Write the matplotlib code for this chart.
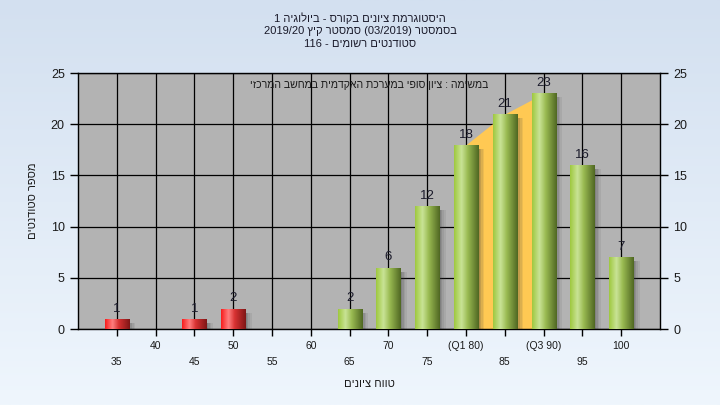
import re
import numpy as np
import matplotlib
matplotlib.use("Agg")
import matplotlib.pyplot as plt
from matplotlib.colors import LinearSegmentedColormap
from matplotlib.patches import Rectangle

plt.rcParams['font.family'] = ['Liberation Sans', 'DejaVu Sans']

# ---------------- data ----------------
grade_labels = ['35', '40', '45', '50', '55', '60', '65', '70', '75',
                '(Q1 80)', '85', '(Q3 90)', '95', '100']
grade_values = [35, 40, 45, 50, 55, 60, 65, 70, 75, 80, 85, 90, 95, 100]
counts = [1, 0, 1, 2, 0, 0, 2, 6, 12, 18, 21, 23, 16, 7]
pass_grade = 55
q1_grade, q3_grade = 80, 90

title_lines = ["היסטוגרמת ציונים בקורס - ביולוגיה 1",
               "בסמסטר (03/2019) סמסטר קיץ 2019/20",
               "סטודנטים רשומים - 116"]
note_text = "במשימה : ציון סופי במערכת האקדמית במחשב המרכזי"
xlabel_text = "טווח ציונים"
ylabel_text = "מספר סטודנטים"
yticks = [0, 5, 10, 15, 20, 25]


def vis(s):
    """simple RTL -> visual order conversion"""
    r = s[::-1]
    r = re.sub(r'[0-9A-Za-z/.]+', lambda m: m.group(0)[::-1], r)
    return r.translate(str.maketrans('()', ')('))


W, H = 720, 405
fig = plt.figure(figsize=(W / 100, H / 100), dpi=100)

# background gradient
bg = fig.add_axes([0, 0, 1, 1], zorder=-10)
bg_cmap = LinearSegmentedColormap.from_list('bg', ['#d3e0f0', '#eff6fd'])
bg.imshow(np.linspace(0, 1, 256).reshape(-1, 1), aspect='auto', cmap=bg_cmap,
          extent=[0, 1, 0, 1], origin='upper')
bg.axis('off')

L, R, T, B = 78, 660, 73, 329
ax = fig.add_axes([L / W, 1 - B / H, (R - L) / W, (B - T) / H])
ax.set_facecolor('#b3b3b3')

x = np.arange(len(counts))
bar_w = 0.62

green_cmap = LinearSegmentedColormap.from_list(
    'g', [(0, '#9ec83e'), (0.3, '#c9e396'), (0.55, '#9abb52'), (1, '#4f6722')])
red_cmap = LinearSegmentedColormap.from_list(
    'r', [(0, '#f81c1c'), (0.3, '#ff7f7f'), (0.55, '#d83232'), (1, '#7e1616')])
grad = np.linspace(0, 1, 128).reshape(1, -1)

# orange inter-quartile area
qmask = [(g >= q1_grade) and (g <= q3_grade) for g in grade_values]
qx = x[qmask]
qy = np.array(counts)[qmask]
ax.fill_between(qx, qy, 0, color='#ffc953', zorder=2, linewidth=0)

bars = ax.bar(x, counts, width=bar_w, color='none', zorder=3)
px = 15 / (R - L)      # data units per pixel (x)
py = 25 / (B - T)      # data units per pixel (y)
for xi, rect, g, c in zip(x, bars.patches, grade_values, counts):
    if c <= 0:
        continue
    x0 = rect.get_x()
    x1 = x0 + rect.get_width()
    # shadow
    for k, a in enumerate([0.42, 0.3, 0.18, 0.09]):
        ax.add_patch(Rectangle((x1 + k * 1.6 * px, 0), 1.6 * px,
                               max(c - 4 * py, 0), color='#3a3a3a',
                               alpha=a, linewidth=0, zorder=2.5))
    cmap = green_cmap if g >= pass_grade else red_cmap
    im = ax.imshow(grad, extent=[x0, x1, 0, c], aspect='auto', cmap=cmap,
                   zorder=3, interpolation='bilinear')
    im.set_clip_path(rect)
    ax.text(xi, c + 0.4, str(c), ha='center', va='bottom', fontsize=9.5,
            color='#1c1c2c', zorder=5)

ax.set_xlim(-1, len(counts))
ax.set_ylim(0, 25)
ax.set_yticks(yticks)
ax.set_xticks(x)
ax.set_xticklabels(grade_labels, fontsize=7.5, color='#1a1a1a')
for i, t in enumerate(ax.xaxis.get_major_ticks()):
    t.set_pad(3.5 if i % 2 == 1 else 15)
ax.tick_params(axis='x', length=5, width=1, color='black')
ax.tick_params(axis='y', left=True, right=True, labelleft=True,
               labelright=True, length=6, width=1, labelsize=9,
               labelcolor='#1a1a1a')
ax.grid(True, color='black', linewidth=0.9)
ax.set_axisbelow(True)
for s in ax.spines.values():
    s.set_color('black')
    s.set_linewidth(1)

ax.text(0.5, 1 - 12 / (B - T), vis(note_text), transform=ax.transAxes,
        ha='center', va='center', fontsize=7.6, color='#1a1a1a', zorder=6)

ax.set_xlabel(vis(xlabel_text), fontsize=8, color='#1a1a1a', labelpad=9)
ax.set_ylabel(vis(ylabel_text), fontsize=8, color='#1a1a1a', labelpad=9)

for i, line in enumerate(title_lines):
    fig.text(0.5, 1 - (18 + 13 * i) / H, vis(line), ha='center', va='center',
             fontsize=8, color='#1a1a2a')

fig.savefig('out.png', dpi=100)
